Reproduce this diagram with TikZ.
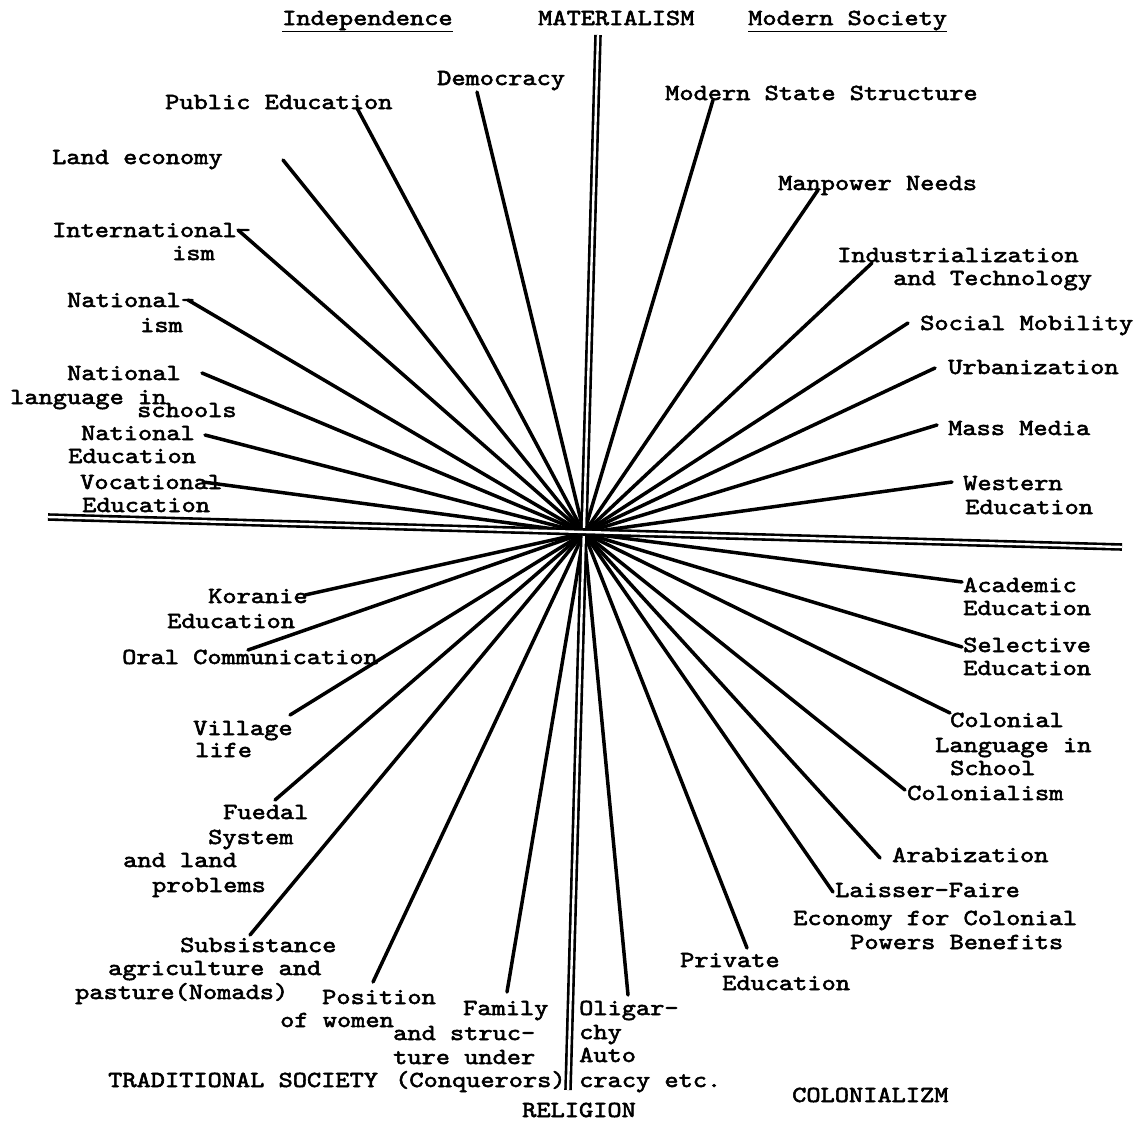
\documentclass[tikz,border=0pt]{standalone}
\usepackage{fontspec}
\newfontfamily\tw{lmmono10-regular.otf}[FakeBold=2.2]
\newcommand{\lbl}[4]{\node[lab] (#1) at (#2,{#3+7}) {\scalebox{1.176}[1]{#4}};}
\begin{document}
\begin{tikzpicture}[x=1pt,y=-1pt,
  lab/.style={anchor=base west, inner sep=0pt, font=\fontsize{23}{24}\selectfont\tw},
  ray/.style={line width=3.5pt, line cap=round},
  axis/.style={double=white, line width=2.6pt, double distance=2.4pt}]
\useasboundingbox (0,0) rectangle (1139,1127);
\coordinate (c) at (584,533);
% rays
\foreach \n/\x/\y in {dem/477/92, pub/357/108, land/283/160, intl/238/230, natl/188/300,
  nlang/202/373, nedu/205/435, voc/203/482,
  mod/713/100, man/818/190, ind/872/263, soc/908/323, urb/935/368, mass/937/425, west/952/482,
  acad/962/582, sel/962/647, coll/950/713, colon/905/790, arab/880/858, lais/833/892,
  priv/747/948, olig/628/995,
  fam/507/992, pos/373/982, subs/250/935, fued/275/800, vill/290/715, oral/248/650, kor/305/595}
{ \coordinate (\n) at (\x,\y); \draw[ray] (c) -- (\n); }
% axes
\coordinate (top) at (598,35);
\coordinate (bot) at (568,1090);
\coordinate (lft) at (48,517);
\coordinate (rgt) at (1122,547);
\draw[axis] (top) -- (bot);
\draw[axis] (lft) -- (rgt);
% header / corner texts
\lbl{h1}{282}{18}{\underline{Independence}}
\lbl{h2}{538}{18}{MATERIALISM}
\lbl{h3}{748}{18}{\underline{Modern Society}}
\lbl{h4}{522}{1110}{RELIGION}
\lbl{h5}{108}{1080}{TRADITIONAL SOCIETY}
\lbl{h6}{792}{1095}{COLONIALIZM}
% upper left
\lbl{a1}{437}{78}{Democracy}
\lbl{a2}{165}{102}{Public Education}
\lbl{a3}{52}{157}{Land economy}
\lbl{a4}{52}{230}{International-}
\lbl{a5}{172}{253}{ism}
\lbl{a6}{67}{300}{National-}
\lbl{a7}{140}{325}{ism}
\lbl{a8}{67}{373}{National}
\lbl{a9}{10}{397}{language in}
\lbl{a10}{137}{410}{schools}
\lbl{a11}{81}{433}{National}
\lbl{a12}{68}{456}{Education}
\lbl{a13}{80}{482}{Vocational}
\lbl{a14}{82}{505}{Education}
% upper right
\lbl{b1}{665}{93}{Modern State Structure}
\lbl{b2}{778}{183}{Manpower Needs}
\lbl{b3}{837}{255}{Industrialization}
\lbl{b4}{893}{278}{and Technology}
\lbl{b5}{920}{323}{Social Mobility}
\lbl{b6}{948}{367}{Urbanization}
\lbl{b7}{948}{428}{Mass Media}
\lbl{b8}{963}{483}{Western}
\lbl{b9}{965}{507}{Education}
% lower right
\lbl{d1}{963}{585}{Academic}
\lbl{d2}{963}{608}{Education}
\lbl{d3}{963}{645}{Selective}
\lbl{d4}{963}{668}{Education}
\lbl{d5}{950}{720}{Colonial}
\lbl{d6}{935}{745}{Language in}
\lbl{d7}{950}{768}{School}
\lbl{d8}{907}{793}{Colonialism}
\lbl{d9}{892}{855}{Arabization}
\lbl{d10}{835}{890}{Laisser-Faire}
\lbl{d11}{793}{918}{Economy for Colonial}
\lbl{d12}{850}{942}{Powers Benefits}
\lbl{d13}{680}{960}{Private}
\lbl{d14}{722}{983}{Education}
\lbl{d15}{579}{1008}{Oligar-}
\lbl{d16}{579}{1032}{chy}
\lbl{d17}{579}{1055}{Auto}
\lbl{d18}{579}{1080}{cracy etc.}
% lower left
\lbl{e1}{208}{596}{Koranie}
\lbl{e2}{167}{621}{Education}
\lbl{e3}{122}{657}{Oral Communication}
\lbl{e4}{193}{728}{Village}
\lbl{e5}{195}{750}{life}
\lbl{e6}{223}{812}{Fuedal}
\lbl{e7}{208}{837}{System}
\lbl{e8}{123}{860}{and land}
\lbl{e9}{152}{885}{problems}
\lbl{e10}{180}{945}{Subsistance}
\lbl{e11}{108}{968}{agriculture and}
\lbl{e12}{75}{992}{pasture(Nomads)}
\lbl{e13}{322}{997}{Position}
\lbl{e14}{280}{1020}{of women}
\lbl{e15}{463}{1008}{Family}
\lbl{e16}{393}{1033}{and struc-}
\lbl{e17}{393}{1057}{ture under}
\lbl{e18}{395}{1080}{(Conquerors)}
\end{tikzpicture}
\end{document}
